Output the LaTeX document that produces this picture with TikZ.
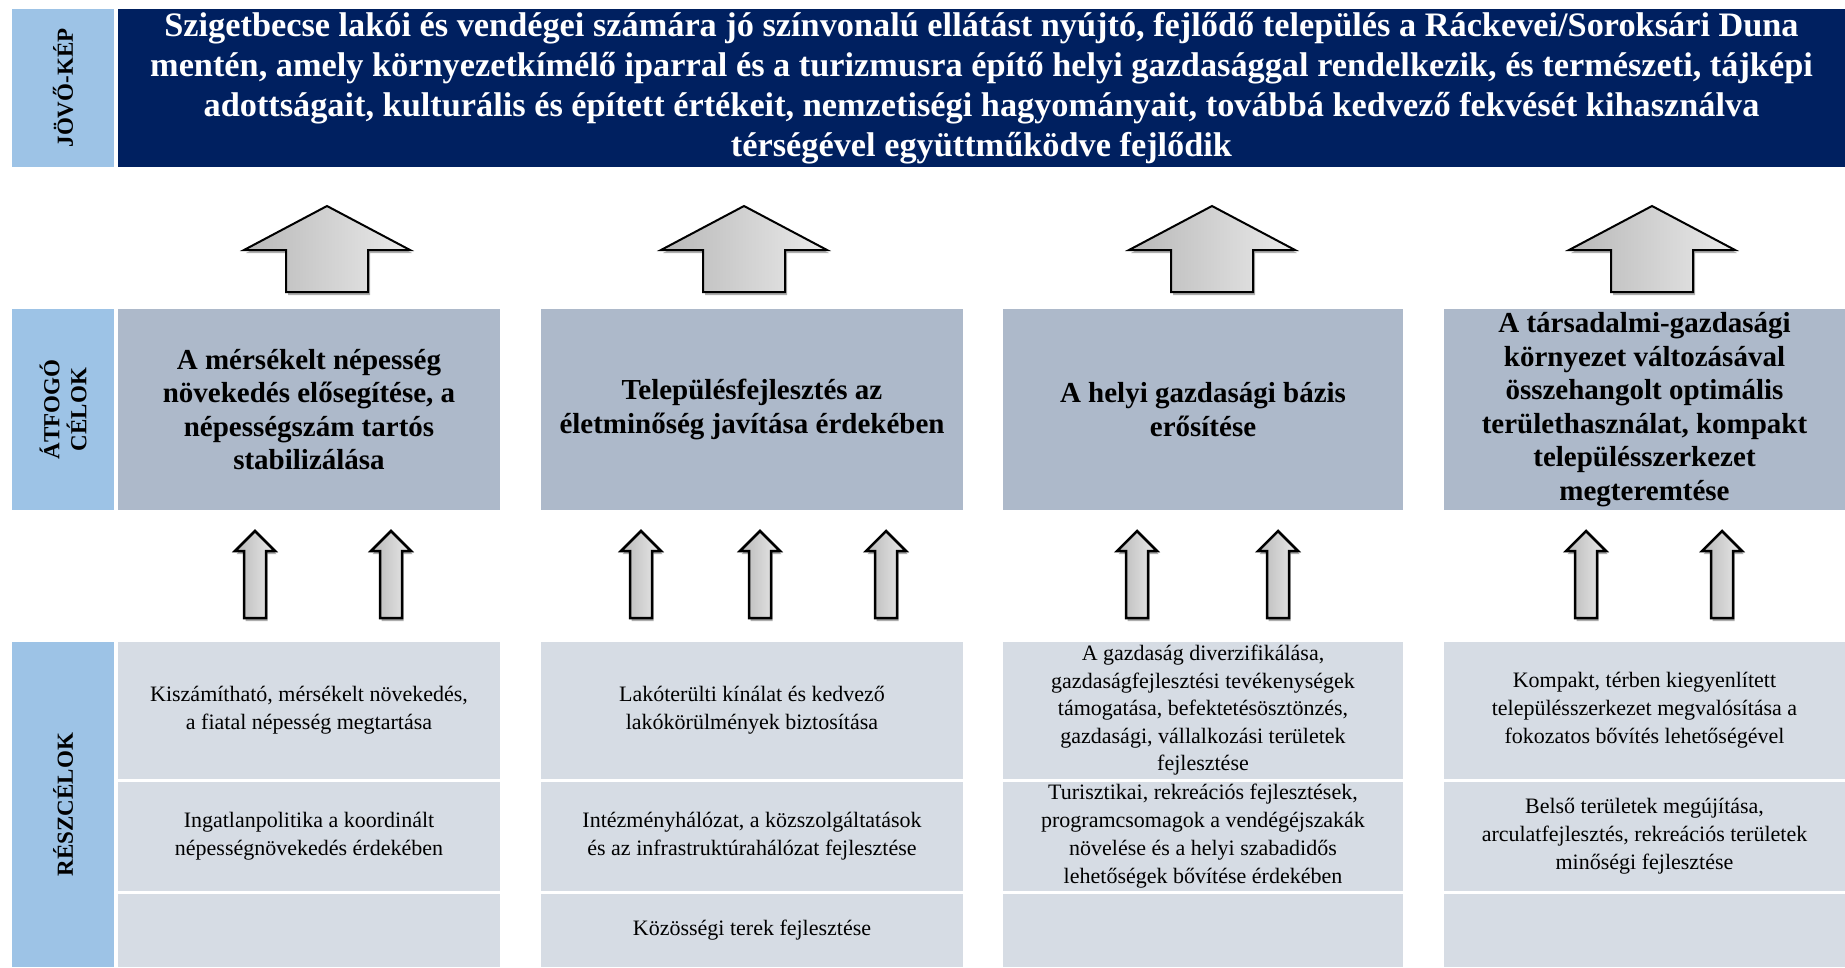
\documentclass[tikz,border=0pt]{standalone}
\usepackage{fontspec}
\setmainfont{Liberation Serif}
\usetikzlibrary{shadows}
\definecolor{navy}{HTML}{002060}
\definecolor{lblue}{HTML}{9DC3E6}
\definecolor{goalc}{HTML}{ADB9CA}
\definecolor{subc}{HTML}{D6DCE4}
\newcommand\blkarrow[7][]{%
  \draw[#1] (#2,#3) -- (#2+#6,#4) -- (#2+#7,#4) -- (#2+#7,#5) -- (#2-#7,#5) -- (#2-#7,#4) -- (#2-#6,#4) -- cycle;}
\begin{document}
\begin{tikzpicture}[x=1pt,y=-1pt,
  vis/.style={fill=navy, text=white, font=\bfseries\fontsize{34.3}{40}\selectfont, align=center, inner sep=0pt, minimum width=1727, minimum height=158},
  lab/.style={fill=lblue, rotate=90, font=\bfseries\fontsize{23}{27}\selectfont, align=center, inner sep=0pt, minimum height=102},
  goal/.style={fill=goalc, font=\bfseries\fontsize{29}{33.5}\selectfont, align=center, inner sep=0pt, minimum height=201},
  sub/.style={fill=subc, font=\fontsize{22}{28}\selectfont, align=center, inner sep=0pt},
  r1/.style={sub, minimum height=137},
  r2/.style={sub, minimum height=109},
  r3/.style={sub, minimum height=73},
  bigarr/.style={draw=black, line width=2pt, line join=miter, left color=black!28, right color=black!8,
    drop shadow={shadow xshift=2pt, shadow yshift=-3pt, fill=black!45, opacity=0.7}},
  smallarr/.style={draw=black, line width=2.5pt, line join=miter, left color=black!28, right color=black!8,
    drop shadow={shadow xshift=1.5pt, shadow yshift=-3pt, fill=black!45, opacity=0.7}}
]
\useasboundingbox (0,0) rectangle (1845,967);

% vision row
\node[lab, minimum width=158] (jl) at (63,88) {JÖVŐ-KÉP};
\node[vis] (vis) at (981.5,88) {Szigetbecse lakói és vendégei számára jó színvonalú ellátást nyújtó, fejlődő település a Ráckevei/Soroksári Duna\\
mentén, amely környezetkímélő iparral és a turizmusra építő helyi gazdasággal rendelkezik, és természeti, tájképi\\
adottságait, kulturális és épített értékeit, nemzetiségi hagyományait, továbbá kedvező fekvését kihasználva\\
térségével együttműködve fejlődik};

% goals row
\node[lab, minimum width=201] (al) at (63,409.5) {ÁTFOGÓ\\CÉLOK};
\node[goal, minimum width=382] (g1) at (309,409.5) {A mérsékelt népesség\\növekedés elősegítése, a\\népességszám tartós\\stabilizálása};
\node[goal, minimum width=422] (g2) at (752,409.5) {Településfejlesztés az\\életminőség javítása érdekében};
\node[goal, minimum width=400] (g3) at (1203,409.5) {A helyi gazdasági bázis\\erősítése};
\node[goal, minimum width=401] (g4) at (1644.5,409.5) {A társadalmi-gazdasági\\környezet változásával\\összehangolt optimális\\területhasználat, kompakt\\településszerkezet\\megteremtése};

% sub-goals
\node[lab, minimum width=325] (rl) at (63,804.5) {RÉSZCÉLOK};
\node[r1, minimum width=382] (s11) at (309,710.5) {Kiszámítható, mérsékelt növekedés,\\a fiatal népesség megtartása};
\node[r2, minimum width=382] (s12) at (309,836.5) {Ingatlanpolitika a koordinált\\népességnövekedés érdekében};
\node[r3, minimum width=382] (s13) at (309,930.5) {};
\node[r1, minimum width=422] (s21) at (752,710.5) {Lakóterülti kínálat és kedvező\\lakókörülmények biztosítása};
\node[r2, minimum width=422] (s22) at (752,836.5) {Intézményhálózat, a közszolgáltatások\\és az infrastruktúrahálózat fejlesztése};
\node[r3, minimum width=422] (s23) at (752,930.5) {Közösségi terek fejlesztése};
\node[r1, minimum width=400, font=\fontsize{22}{27.5}\selectfont] (s31) at (1203,710.5) {A gazdaság diverzifikálása,\\gazdaságfejlesztési tevékenységek\\támogatása, befektetésösztönzés,\\gazdasági, vállalkozási területek\\fejlesztése};
\node[r2, minimum width=400] (s32) at (1203,836.5) {Turisztikai, rekreációs fejlesztések,\\programcsomagok a vendégéjszakák\\növelése és a helyi szabadidős\\lehetőségek bővítése érdekében};
\node[r3, minimum width=400] (s33) at (1203,930.5) {};
\node[r1, minimum width=401] (s41) at (1644.5,710.5) {Kompakt, térben kiegyenlített\\településszerkezet megvalósítása a\\fokozatos bővítés lehetőségével};
\node[r2, minimum width=401] (s42) at (1644.5,836.5) {Belső területek megújítása,\\arculatfejlesztés, rekreációs területek\\minőségi fejlesztése};
\node[r3, minimum width=401] (s43) at (1644.5,930.5) {};

% big arrows (goals -> vision)
\foreach \cx in {327,744,1212,1652} {\blkarrow[bigarr]{\cx}{206}{250}{292}{83}{41}}
% small arrows (sub-goals -> goals)
\foreach \cx in {255,391,641,760,886,1137,1278,1586,1722} {\blkarrow[smallarr]{\cx}{531}{551}{618}{20}{11}}
\end{tikzpicture}
\end{document}
